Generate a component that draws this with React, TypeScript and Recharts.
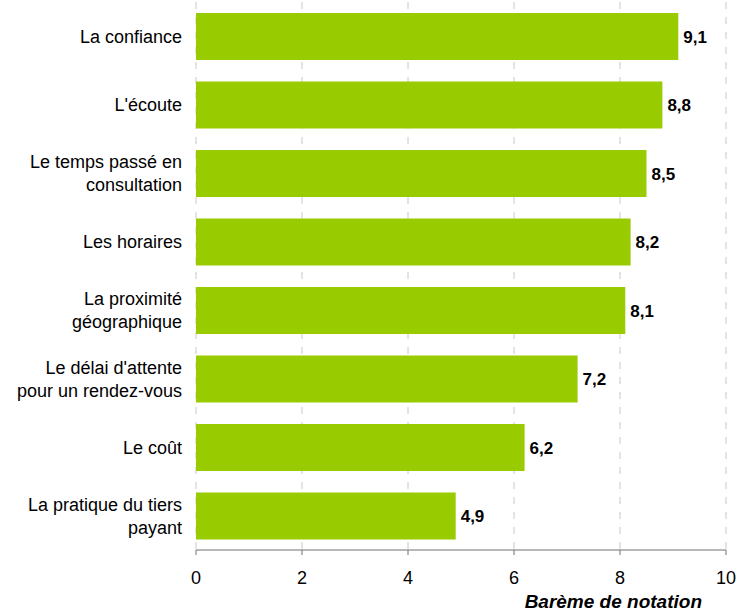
import React from 'react';
import { BarChart, Bar, XAxis, YAxis, CartesianGrid, LabelList } from 'recharts';

// Critères (les retours à la ligne suivent le graphique d'origine)
const criteres = [
  'La confiance',
  "L'écoute",
  'Le temps passé en\nconsultation',
  'Les horaires',
  'La proximité\ngéographique',
  "Le délai d'attente\npour un rendez-vous",
  'Le coût',
  'La pratique du tiers\npayant',
];
const notes = [9.1, 8.8, 8.5, 8.2, 8.1, 7.2, 6.2, 4.9];
const xTicks = [0, 2, 4, 6, 8, 10];

const data = criteres.map((critere, i) => ({ critere, note: notes[i] }));

const FONT = 'Arial, "Liberation Sans", sans-serif';

const CategoryTick = (props: any) => {
  const { x, y, payload } = props;
  const lines = String(payload.value).split('\n');
  const lineH = 23;
  const y0 = y - ((lines.length - 1) * lineH) / 2;
  return (
    <text x={x} y={y0} textAnchor="end" fontFamily={FONT} fontSize={18} fill="#000">
      {lines.map((l, i) => (
        <tspan key={i} x={x} y={y0 + i * lineH} dy="0.35em">
          {l}
        </tspan>
      ))}
    </text>
  );
};

const AxisTitle = (props: any) => {
  const { viewBox } = props;
  return (
    <text
      x={viewBox.x + viewBox.width - 24}
      y={viewBox.y + 58}
      textAnchor="end"
      fontFamily={FONT}
      fontSize={19}
      fontWeight="bold"
      fontStyle="italic"
      fill="#000"
    >
      Barème de notation
    </text>
  );
};

export default function App() {
  return (
    <div style={{ position: 'absolute', left: 0, top: 0, background: '#fff' }}>
      <BarChart
        width={750}
        height={614}
        data={data}
        layout="vertical"
        margin={{ top: 2, right: 24, bottom: 0, left: 0 }}
        barSize={47}
      >
        <CartesianGrid
          horizontal={false}
          stroke="#c8c8c8"
          strokeDasharray="7 8"
          verticalValues={xTicks}
        />
        <XAxis
          type="number"
          domain={[0, 10]}
          ticks={xTicks}
          height={64}
          stroke="#707070"
          tickSize={5}
          tickMargin={16}
          tick={{ fill: '#000', fontSize: 18, fontFamily: FONT }}
          label={<AxisTitle />}
        />
        <YAxis
          type="category"
          dataKey="critere"
          width={196}
          axisLine={false}
          tickLine={false}
          tickMargin={8}
          interval={0}
          tick={<CategoryTick />}
        />
        <Bar dataKey="note" fill="#99cc00" isAnimationActive={false}>
          <LabelList
            dataKey="note"
            position="right"
            offset={5}
            formatter={(v: any) => String(v).replace('.', ',')}
            style={{ fill: '#000', fontWeight: 'bold', fontSize: 17, fontFamily: FONT }}
          />
        </Bar>
      </BarChart>
    </div>
  );
}
